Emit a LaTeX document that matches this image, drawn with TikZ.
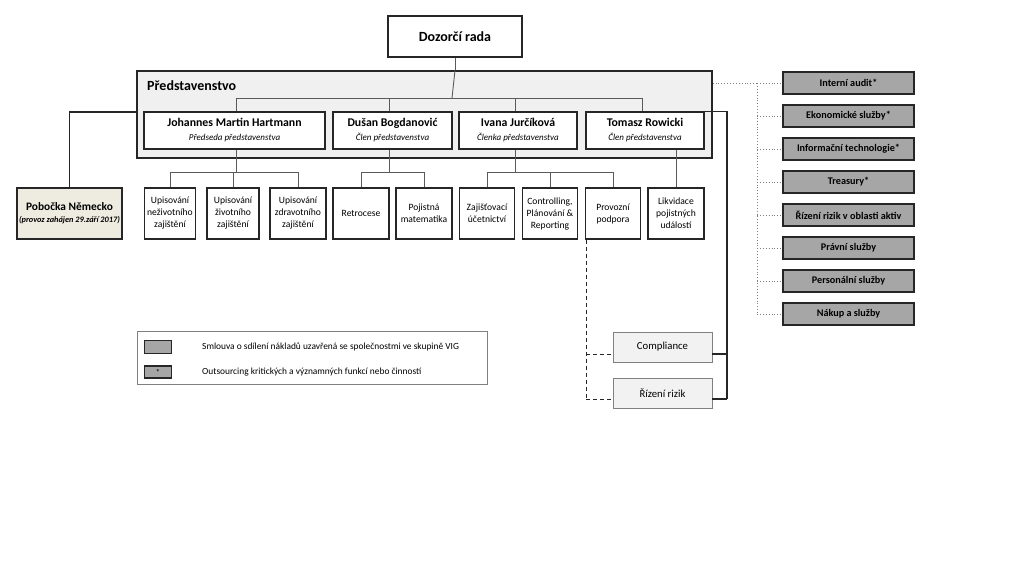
\documentclass[tikz,border=0pt]{standalone}
\usepackage{fontspec}
\setmainfont{Carlito}
\usetikzlibrary{positioning}
\definecolor{boxline}{HTML}{262626}
\definecolor{conn}{HTML}{5A5A5A}
\definecolor{predfill}{HTML}{F0F0F0}
\definecolor{grayfill}{HTML}{A6A6A6}
\definecolor{lightfill}{HTML}{F2F2F2}
\definecolor{beige}{HTML}{EEECE1}
\tikzset{
  box/.style={draw=boxline, line width=1.3pt, inner sep=0pt, align=center, anchor=center},
  member/.style={box, fill=white, minimum height=37pt},
  subbox/.style={box, fill=white, minimum width=55pt, minimum height=51pt, font=\fontsize{9.6}{12}\selectfont},
  svc/.style={box, fill=grayfill, minimum width=131pt, minimum height=22pt, font=\fontsize{10.2}{12}\selectfont\bfseries},
  ctrl/.style={draw=gray, line width=0.8pt, fill=lightfill, inner sep=0pt, minimum width=99pt, minimum height=30pt, font=\fontsize{10.7}{12}\selectfont},
  conline/.style={draw=conn, line width=0.9pt},
  dotline/.style={draw=gray, line width=0.9pt, dotted},
  dashline/.style={draw=boxline, line width=1pt, dash pattern=on 4pt off 3pt},
  solidline/.style={draw=boxline, line width=1.2pt},
}
\newcommand{\mbr}[2]{{\fontsize{11.8}{13}\selectfont\bfseries #1}\\[2pt]{\fontsize{9}{10}\selectfont\itshape #2}}
\begin{document}
\begin{tikzpicture}[x=1pt,y=-1pt]
\useasboundingbox[fill=white] (0,0) rectangle (1024,576);

% Dozorci rada
\node[box, fill=white, minimum width=134pt, minimum height=41pt, font=\fontsize{14}{16}\selectfont\bfseries] (dozor) at (455,36.5) {Dozorčí rada};

% Predstavenstvo frame
\node[draw=boxline, line width=1.3pt, fill=predfill, minimum width=575pt, minimum height=87pt, inner sep=0pt] (pred) at (424.5,114.5) {};
\node[anchor=west, inner sep=0pt, font=\fontsize{14}{16}\selectfont\bfseries] (predtitle) at (147,86) {Představenstvo};

% Members
\node[member, minimum width=181pt] (johannes) at (234.5,130.5) {\mbr{Johannes Martin Hartmann}{Předseda představenstva}};
\node[member, minimum width=119pt] (dusan) at (392.5,130.5) {\mbr{Dušan Bogdanović}{Člen představenstva}};
\node[member, minimum width=118pt] (ivana) at (518,130.5) {\mbr{Ivana Jurčíková}{Členka představenstva}};
\node[member, minimum width=118pt] (tomasz) at (645,130.5) {\mbr{Tomasz Rowicki}{Člen představenstva}};

% Sub units
\node[subbox, minimum width=51pt] (upn) at (170,213.5) {Upisování\\neživotního\\zajištění};
\node[subbox, minimum width=52pt] (upz) at (233,213.5) {Upisování\\životního\\zajištění};
\node[subbox, minimum width=56pt] (upzd) at (298,213.5) {Upisování\\zdravotního\\zajištění};
\node[subbox, minimum width=56pt] (retro) at (361,213.5) {Retrocese};
\node[subbox, minimum width=56pt] (pojm) at (424,213.5) {Pojistná\\matematika};
\node[subbox, minimum width=55pt] (zaj) at (487,213.5) {Zajišťovací\\účetnictví};
\node[subbox, minimum width=55pt] (contr) at (550,213.5) {Controlling,\\Plánování \&\\Reporting};
\node[subbox, minimum width=55pt] (prov) at (613,213.5) {Provozní\\podpora};
\node[subbox, minimum width=56pt] (likv) at (676,213.5) {Likvidace\\pojistných\\událostí};

% Pobocka
\node[box, fill=beige, minimum width=105pt, minimum height=51pt] (pobocka) at (69.5,213.5)
  {{\fontsize{11.4}{13}\selectfont\bfseries Pobočka Německo}\\[0pt]{\fontsize{8.3}{10}\selectfont\bfseries\itshape (provoz zahájen 29.září 2017)}};

% Service boxes
\node[svc] (audit) at (848.5,83) {Interní audit*};
\node[svc] (ekon) at (848.5,116) {Ekonomické služby*};
\node[svc] (it) at (848.5,149) {Informační technologie*};
\node[svc] (treas) at (848.5,182) {Treasury*};
\node[svc] (rizaktiv) at (848.5,215) {Řízení rizik v oblasti aktiv};
\node[svc] (pravni) at (848.5,248) {Právní služby};
\node[svc] (person) at (848.5,281) {Personální služby};
\node[svc] (nakup) at (848.5,314) {Nákup a služby};

% Compliance / Rizeni rizik
\node[ctrl] (compl) at (662.5,347) {Compliance};
\node[ctrl] (rizeni) at (662.5,393) {Řízení rizik};

% Legend
\node[draw=gray, line width=0.8pt, fill=white, minimum width=350pt, minimum height=53pt, inner sep=0pt] (legend) at (312,357.5) {};
\node[draw=boxline, line width=1.1pt, fill=grayfill, minimum width=27pt, minimum height=13pt, inner sep=0pt] (leg1) at (158,347) {};
\node[draw=boxline, line width=1.1pt, fill=grayfill, minimum width=27pt, minimum height=12pt, inner sep=0pt, font=\fontsize{8.5}{9}\selectfont] (leg2) at (158,372) {*};
\node[anchor=west, inner sep=0pt, font=\fontsize{9.4}{11}\selectfont] (legt1) at (202,347) {Smlouva o sdílení nákladů uzavřená se společnostmi ve skupině VIG};
\node[anchor=west, inner sep=0pt, font=\fontsize{9.4}{11}\selectfont] (legt2) at (202,372) {Outsourcing kritických a významných funkcí nebo činností};

% Connectors: top level
\coordinate (bus) at (452,98);
\draw[conline] (dozor.south) -- (dozor.south |- pred.north);
\draw[conline] (pred.north -| dozor.south) -- (bus);
\draw[conline] (johannes.north -| 236,0) |- (bus);
\draw[conline] (tomasz.north -| 642,0) |- (bus);
\draw[conline] (dusan.north -| 389,0) -- (389,98);
\draw[conline] (ivana.north -| 515,0) -- (515,98);

% Johannes subunits
\coordinate (jb) at (236,172);
\draw[conline] (johannes.south -| jb) -- (jb);
\draw[conline] (upn.north) |- (jb);
\draw[conline] (upzd.north) |- (jb);
\draw[conline] (upz.north) -- (upz.north |- jb);
% Dusan subunits
\coordinate (db) at (389,172);
\draw[conline] (dusan.south -| db) -- (db);
\draw[conline] (retro.north) |- (db);
\draw[conline] (pojm.north) |- (db);
% Ivana subunits
\coordinate (ib) at (515,172);
\draw[conline] (ivana.south -| ib) -- (ib);
\draw[conline] (zaj.north) |- (ib);
\draw[conline] (prov.north) |- (ib);
\draw[conline] (contr.north) -- (contr.north |- ib);
% Tomasz
\draw[conline] (tomasz.south -| likv.north) -- (likv.north);

% Pobocka
\draw[solidline] (pred.west |- 0,112) -| (pobocka.north);

% Dotted service links
\coordinate (dv) at (757,0);
\draw[dotline] (pred.east |- audit) -- (dv |- audit);
\draw[dotline] (dv |- audit) -- (dv |- nakup);
\foreach \s in {audit,ekon,it,treas,rizaktiv,pravni,person,nakup}
  \draw[dotline] (dv |- \s) -- (\s.west);

% Solid link to Compliance / Rizeni rizik
\coordinate (rv) at (727,0);
\draw[solidline] (tomasz.north east) -- (rv |- tomasz.north east) -- (rv |- 0,399);
\draw[solidline] ([yshift=-7pt]compl.east) -- (rv |- 0,354);
\draw[solidline] ([yshift=-6pt]rizeni.east) -- (rv |- 0,399);

% Dashed link from Provozni podpora
\coordinate (pv) at (586,0);
\draw[dashline] (prov.south -| pv) -- (pv |- 0,399);
\draw[dashline] (pv |- 0,354) -- ([yshift=-7pt]compl.west);
\draw[dashline] (pv |- 0,399) -- ([yshift=-6pt]rizeni.west);
\end{tikzpicture}
\end{document}
